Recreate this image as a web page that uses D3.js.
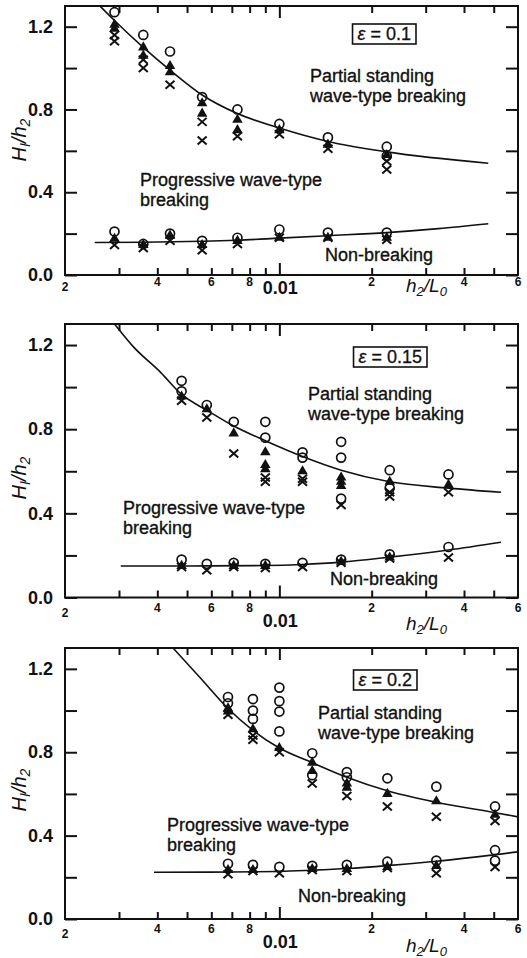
<!DOCTYPE html>
<html>
<head>
<meta charset="utf-8">
<script src="https://cdn.jsdelivr.net/npm/d3@7"></script>
<style>
  body { margin: 0; background: #fff; }
  text { font-family: "Liberation Sans", Arial, sans-serif; fill: #111; }
  .tick text { font-weight: bold; font-size: 18px; }
  .note { font-size: 18px; stroke: #111; stroke-width: 0.35px; }
</style>
</head>
<body>
<div id="graphic"></div>
<script>
// axes
var xDomain = [0.002, 0.06];
var yDomain = [0, 1.3];
var yTicks = [0, 0.2, 0.4, 0.6, 0.8, 1.0, 1.2];
var yTickLabels = [0, 0.4, 0.8, 1.2];
var xMinorTicks = [0.003, 0.004, 0.005, 0.006, 0.007, 0.008, 0.009, 0.02, 0.03, 0.04, 0.05];
var xDecadeTicks = [0.01];
var xSmallLabelValues = [0.002, 0.004, 0.006, 0.008, 0.02, 0.04, 0.06];
var xSmallLabelTexts = ['2', '4', '6', '8', '2', '4', '6'];
var epsilons = ['0.1', '0.15', '0.2'];

// panel 1 (epsilon = 0.1)
var p1Circles = [[0.0029, 1.27], [0.0036, 1.16], [0.0044, 1.08], [0.0056, 0.86], [0.0073, 0.80], [0.010, 0.73], [0.0144, 0.665], [0.0224, 0.62], [0.0224, 0.575],
  [0.0029, 0.21], [0.0036, 0.15], [0.0044, 0.20], [0.0056, 0.165], [0.0073, 0.18], [0.010, 0.22], [0.0144, 0.205], [0.0224, 0.205]];
var p1Triangles = [[0.0029, 1.21], [0.0029, 1.19], [0.0036, 1.10], [0.0036, 1.06], [0.0044, 1.01], [0.0044, 0.98], [0.0056, 0.83], [0.0056, 0.78], [0.0073, 0.75], [0.0073, 0.70], [0.010, 0.70], [0.0144, 0.63], [0.0224, 0.58],
  [0.0029, 0.175], [0.0036, 0.145], [0.0044, 0.19], [0.0056, 0.145], [0.0073, 0.165], [0.010, 0.18], [0.0144, 0.18], [0.0224, 0.18]];
var p1Crosses = [[0.0029, 1.16], [0.0029, 1.13], [0.0036, 1.04], [0.0036, 1.00], [0.0044, 0.92], [0.0056, 0.74], [0.0056, 0.65], [0.0073, 0.67], [0.010, 0.68], [0.0144, 0.61], [0.0224, 0.55], [0.0224, 0.51],
  [0.0029, 0.145], [0.0036, 0.13], [0.0044, 0.165], [0.0056, 0.12], [0.0073, 0.15], [0.010, 0.18], [0.0144, 0.18], [0.0224, 0.17]];
var p1Upper = [[0.0026, 1.30], [0.0029, 1.23], [0.0036, 1.10], [0.0044, 0.99], [0.0056, 0.87], [0.0073, 0.78], [0.010, 0.71], [0.0144, 0.645], [0.0224, 0.595], [0.048, 0.54]];
var p1Lower = [[0.0025, 0.157], [0.0036, 0.158], [0.0056, 0.163], [0.0073, 0.168], [0.010, 0.178], [0.0144, 0.19], [0.0224, 0.205], [0.033, 0.224], [0.048, 0.248]];

// panel 2 (epsilon = 0.15)
var p2Circles = [[0.0048, 1.03], [0.0048, 0.98], [0.0058, 0.915], [0.0071, 0.835], [0.009, 0.835], [0.009, 0.76], [0.0119, 0.69], [0.0119, 0.665], [0.0159, 0.74], [0.0159, 0.665], [0.0159, 0.47], [0.0229, 0.605], [0.0229, 0.52], [0.0356, 0.585],
  [0.0048, 0.18], [0.0058, 0.16], [0.0071, 0.165], [0.009, 0.16], [0.0119, 0.165], [0.0159, 0.18], [0.0229, 0.205], [0.0356, 0.24]];
var p2Triangles = [[0.0048, 0.955], [0.0058, 0.895], [0.0071, 0.78], [0.009, 0.69], [0.009, 0.63], [0.009, 0.61], [0.0119, 0.60], [0.0159, 0.57], [0.0159, 0.55], [0.0159, 0.53], [0.0229, 0.55], [0.0356, 0.535],
  [0.0048, 0.15], [0.0071, 0.15], [0.009, 0.15], [0.0159, 0.17], [0.0229, 0.19]];
var p2Crosses = [[0.0048, 0.935], [0.0058, 0.855], [0.0071, 0.685], [0.009, 0.57], [0.009, 0.55], [0.0119, 0.565], [0.0119, 0.55], [0.0159, 0.44], [0.0229, 0.50], [0.0229, 0.48], [0.0356, 0.50],
  [0.0048, 0.145], [0.0058, 0.13], [0.0071, 0.145], [0.009, 0.14], [0.0119, 0.145], [0.0159, 0.165], [0.0229, 0.185], [0.0356, 0.19]];
var p2Upper = [[0.0029, 1.30], [0.00335, 1.19], [0.0041, 1.07], [0.0048, 0.965], [0.0058, 0.89], [0.0071, 0.815], [0.009, 0.745], [0.0119, 0.67], [0.0159, 0.605], [0.0229, 0.55], [0.0356, 0.52], [0.0528, 0.50]];
var p2Lower = [[0.00304, 0.15], [0.005, 0.15], [0.009, 0.152], [0.0119, 0.157], [0.0159, 0.168], [0.0229, 0.192], [0.0356, 0.226], [0.0528, 0.263]];

// panel 3 (epsilon = 0.2)
var p3Circles = [[0.0068, 1.065], [0.0068, 1.035], [0.0082, 1.055], [0.0082, 1.00], [0.0082, 0.96], [0.010, 1.11], [0.010, 1.045], [0.010, 0.995], [0.010, 0.90], [0.0128, 0.795], [0.0128, 0.69], [0.0166, 0.705], [0.0166, 0.68], [0.0225, 0.675], [0.0325, 0.635], [0.0505, 0.54],
  [0.0068, 0.265], [0.0082, 0.26], [0.010, 0.25], [0.0128, 0.255], [0.0166, 0.26], [0.0225, 0.275], [0.0325, 0.28], [0.0505, 0.33], [0.0505, 0.28]];
var p3Triangles = [[0.0068, 1.01], [0.0068, 0.995], [0.0082, 0.91], [0.010, 0.82], [0.0128, 0.75], [0.0128, 0.71], [0.0166, 0.65], [0.0166, 0.63], [0.0225, 0.60], [0.0325, 0.565], [0.0505, 0.50],
  [0.0068, 0.235], [0.0082, 0.235], [0.0128, 0.24], [0.0166, 0.24], [0.0225, 0.25], [0.0325, 0.255]];
var p3Crosses = [[0.0068, 0.98], [0.0082, 0.88], [0.0082, 0.86], [0.010, 0.80], [0.0128, 0.65], [0.0166, 0.59], [0.0225, 0.54], [0.0325, 0.49], [0.0505, 0.47],
  [0.0068, 0.215], [0.0082, 0.23], [0.010, 0.22], [0.0128, 0.235], [0.0166, 0.23], [0.0225, 0.245], [0.0325, 0.22], [0.0505, 0.25]];
var p3Upper = [[0.0045, 1.30], [0.0055, 1.16], [0.0068, 1.01], [0.0082, 0.905], [0.010, 0.82], [0.0128, 0.75], [0.0166, 0.68], [0.0225, 0.615], [0.0325, 0.56], [0.0505, 0.51], [0.06, 0.49]];
var p3Lower = [[0.0039, 0.224], [0.006, 0.225], [0.010, 0.228], [0.0128, 0.234], [0.0166, 0.242], [0.0225, 0.256], [0.0325, 0.277], [0.06, 0.322]];

var panelData = [
  { circles: p1Circles, triangles: p1Triangles, crosses: p1Crosses, curves: [p1Upper, p1Lower] },
  { circles: p2Circles, triangles: p2Triangles, crosses: p2Crosses, curves: [p2Upper, p2Lower] },
  { circles: p3Circles, triangles: p3Triangles, crosses: p3Crosses, curves: [p3Upper, p3Lower] }
];

// layout of each panel (pixels)
var layout = [
  { top: 6, bottom: 275, smallDy: 11, leftDy: 16, decDy: 19, xLabDy: 17, yLabY: 140,
    boxRight: 411, boxBase: 40, partial: [310, 82], prog: [140, 186], non: [325, 261] },
  { top: 324, bottom: 597.5, smallDy: 14.5, leftDy: 19.5, decDy: 29.5, xLabDy: 32, yLabY: 478,
    boxRight: 422, boxBase: 363, partial: [308, 400], prog: [123, 514], non: [330, 585] },
  { top: 648, bottom: 919, smallDy: 14, leftDy: 19, decDy: 29, xLabDy: 33, yLabY: 790,
    boxRight: 412, boxBase: 686, partial: [318, 719], prog: [167, 831], non: [298, 902] }
];

var width = 527, height = 958, left = 65, right = 518;

var svg = d3.select('#graphic').append('svg')
  .attr('width', width).attr('height', height)
  .style('background-color', '#fff');
var defs = svg.append('defs');

function styleAxis(sel) {
  sel.select('.domain').remove();
  sel.selectAll('line').attr('stroke', '#111').attr('stroke-width', 2);
}

layout.forEach(function (p, i) {
  var data = panelData[i];
  var x = d3.scaleLog().domain(xDomain).range([left, right]);
  var y = d3.scaleLinear().domain(yDomain).range([p.bottom, p.top]);
  var g = svg.append('g');

  defs.append('clipPath').attr('id', 'clip' + i)
    .append('rect')
    .attr('x', left).attr('y', p.top)
    .attr('width', right - left).attr('height', p.bottom - p.top);

  // ticks, all pointing inward
  g.append('g').attr('transform', 'translate(0,' + p.bottom + ')')
    .call(d3.axisBottom(x).tickValues(xMinorTicks).tickSize(-7).tickFormat(''))
    .call(styleAxis);
  g.append('g').attr('transform', 'translate(0,' + p.top + ')')
    .call(d3.axisTop(x).tickValues(xMinorTicks).tickSize(-7).tickFormat(''))
    .call(styleAxis);
  g.append('g').attr('transform', 'translate(0,' + p.bottom + ')')
    .call(d3.axisBottom(x).tickValues(xDecadeTicks).tickSize(-12).tickFormat(''))
    .call(styleAxis);
  g.append('g').attr('transform', 'translate(0,' + p.top + ')')
    .call(d3.axisTop(x).tickValues(xDecadeTicks).tickSize(-12).tickFormat(''))
    .call(styleAxis);
  g.append('g').attr('transform', 'translate(' + left + ',0)')
    .call(d3.axisLeft(y).tickValues(yTicks).tickSize(-12).tickPadding(12)
      .tickFormat(function (d) { return yTickLabels.indexOf(d) >= 0 ? d3.format('.1f')(d) : ''; }))
    .call(styleAxis);
  g.append('g').attr('transform', 'translate(' + right + ',0)')
    .call(d3.axisRight(y).tickValues(yTicks).tickSize(-12).tickFormat(''))
    .call(styleAxis);

  // frame
  g.append('rect')
    .attr('x', left).attr('y', p.top)
    .attr('width', right - left).attr('height', p.bottom - p.top)
    .attr('fill', 'none').attr('stroke', '#111').attr('stroke-width', 2);

  // x tick labels
  g.selectAll('text.xsmall')
    .data(xSmallLabelValues)
    .join('text')
    .attr('class', 'xsmall')
    .attr('x', function (d) { return x(d); })
    .attr('y', function (d, j) { return p.bottom + (j === 0 ? p.leftDy : p.smallDy); })
    .attr('text-anchor', 'middle')
    .style('font-size', '12px').style('font-weight', 'bold')
    .text(function (d, j) { return xSmallLabelTexts[j]; });

  g.selectAll('text.xdec')
    .data(xDecadeTicks)
    .join('text')
    .attr('class', 'xdec')
    .attr('x', function (d) { return x(d) + 1; })
    .attr('y', p.bottom + p.decDy)
    .attr('text-anchor', 'middle')
    .style('font-size', '18px').style('font-weight', 'bold')
    .text(function (d) { return d; });

  // axis titles
  var xl = g.append('text')
    .attr('x', 406).attr('y', p.bottom + p.xLabDy)
    .style('font-size', '19px').style('font-style', 'italic');
  xl.append('tspan').text('h');
  xl.append('tspan').attr('dy', 4).style('font-size', '13px').text('2');
  xl.append('tspan').attr('dy', -4).text('/L');
  xl.append('tspan').attr('dy', 4).style('font-size', '13px').text('0');

  var yl = g.append('text')
    .attr('transform', 'translate(26,' + p.yLabY + ') rotate(-90)')
    .attr('text-anchor', 'middle')
    .style('font-size', '20px').style('font-style', 'italic');
  yl.append('tspan').text('H');
  yl.append('tspan').attr('dy', 4).style('font-size', '14px').text('I');
  yl.append('tspan').attr('dy', -4).text('/h');
  yl.append('tspan').attr('dy', 4).style('font-size', '14px').text('2');

  // fitted curves
  var line = d3.line()
    .x(function (d) { return x(d[0]); })
    .y(function (d) { return y(d[1]); })
    .curve(d3.curveMonotoneX);
  g.append('g').attr('clip-path', 'url(#clip' + i + ')')
    .selectAll('path')
    .data(data.curves)
    .join('path')
    .attr('d', line)
    .attr('fill', 'none').attr('stroke', '#111').attr('stroke-width', 1.6);

  // markers
  g.selectAll('path.tri')
    .data(data.triangles)
    .join('path')
    .attr('class', 'tri')
    .attr('transform', function (d) { return 'translate(' + x(d[0]) + ',' + y(d[1]) + ')'; })
    .attr('d', d3.symbol(d3.symbolTriangle, 48))
    .attr('fill', '#111');

  g.selectAll('path.cross')
    .data(data.crosses)
    .join('path')
    .attr('class', 'cross')
    .attr('transform', function (d) { return 'translate(' + x(d[0]) + ',' + y(d[1]) + ')'; })
    .attr('d', 'M-4.5,-4L4.5,4M-4.5,4L4.5,-4')
    .attr('stroke', '#111').attr('stroke-width', 2).attr('fill', 'none');

  g.selectAll('circle')
    .data(data.circles)
    .join('circle')
    .attr('cx', function (d) { return x(d[0]); })
    .attr('cy', function (d) { return y(d[1]); })
    .attr('r', 4.5)
    .attr('fill', 'none').attr('stroke', '#111').attr('stroke-width', 1.7);

  // region labels
  function twoLines(pos, a, b, gap) {
    var t = g.append('text').attr('class', 'note').attr('x', pos[0]).attr('y', pos[1]);
    t.append('tspan').attr('x', pos[0]).text(a);
    t.append('tspan').attr('x', pos[0]).attr('dy', gap).text(b);
  }
  twoLines(p.partial, 'Partial standing', 'wave-type breaking', 20);
  twoLines(p.prog, 'Progressive wave-type', 'breaking', 20);
  g.append('text').attr('class', 'note').attr('x', p.non[0]).attr('y', p.non[1]).text('Non-breaking');

  // epsilon box
  var eps = g.append('text').attr('x', p.boxRight).attr('y', p.boxBase)
    .attr('text-anchor', 'end')
    .style('font-size', '18px').style('stroke', '#111').style('stroke-width', '0.3px');
  eps.append('tspan').style('font-style', 'italic').text('\u03B5');
  eps.append('tspan').text(' = ' + epsilons[i]);
  var bb = eps.node().getBBox();
  g.insert('rect', function () { return eps.node(); })
    .attr('x', bb.x - 5).attr('y', bb.y)
    .attr('width', bb.width + 10).attr('height', bb.height)
    .attr('fill', '#fff').attr('stroke', '#111').attr('stroke-width', 1.6);
});
</script>
</body>
</html>
